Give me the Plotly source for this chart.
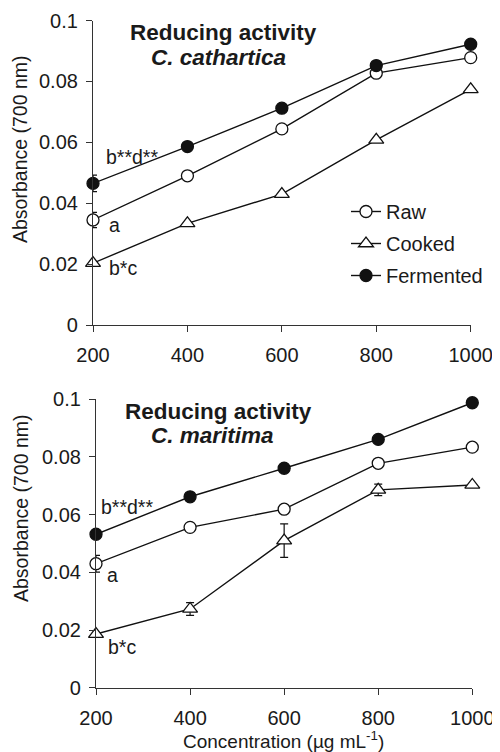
import plotly.graph_objects as go

conc = [200, 400, 600, 800, 1000]
x_ticks = [200, 400, 600, 800, 1000]
y_ticks = [0, 0.02, 0.04, 0.06, 0.08, 0.1]
y_tick_text = ["0", "0.02", "0.04", "0.06", "0.08", "0.1"]

# C. cathartica
cath_raw = [0.0345, 0.0490, 0.0644, 0.0827, 0.0878]
cath_cooked = [0.0203, 0.0334, 0.0430, 0.0608, 0.0774]
cath_ferm = [0.0465, 0.0586, 0.0712, 0.0852, 0.0922]
cath_raw_err = [0.0025, 0, 0, 0.001, 0]
cath_cooked_err = [0, 0, 0, 0, 0]
cath_ferm_err = [0.0027, 0, 0, 0, 0]

# C. maritima
mar_raw = [0.0430, 0.0556, 0.0619, 0.0778, 0.0834]
mar_cooked = [0.0186, 0.0273, 0.0510, 0.0686, 0.0703]
mar_ferm = [0.0532, 0.0662, 0.0761, 0.0861, 0.0988]
mar_raw_err = [0.0029, 0, 0, 0.001, 0]
mar_cooked_err = [0, 0.0022, 0.0058, 0.0020, 0]
mar_ferm_err = [0, 0, 0, 0, 0]

series_names = ["Raw", "Cooked", "Fermented"]

FONT = "Liberation Sans, Arial, Helvetica, sans-serif"
# page has an 8px body margin; size the figure so it fits the 500x752 window
OFF = 8
W, H = 500 - OFF, 752 - OFF

styles = {
    "Raw": dict(symbol="circle", size=12, color="white"),
    "Cooked": dict(symbol="triangle-up", size=13, color="white"),
    "Fermented": dict(symbol="circle", size=12, color="#111111"),
}

fig = go.Figure()

panels = [
    ("x", "y", [cath_raw, cath_cooked, cath_ferm], [cath_raw_err, cath_cooked_err, cath_ferm_err], True),
    ("x2", "y2", [mar_raw, mar_cooked, mar_ferm], [mar_raw_err, mar_cooked_err, mar_ferm_err], False),
]

for xa, ya, vals, errs, show in panels:
    for name, v, e in zip(series_names, vals, errs):
        st = styles[name]
        fig.add_trace(go.Scatter(
            x=conc, y=v, name=name, mode="lines+markers",
            xaxis=xa, yaxis=ya, cliponaxis=False,
            legendgroup=name, showlegend=show,
            line=dict(color="#111111", width=1.4),
            marker=dict(symbol=st["symbol"], size=st["size"], color=st["color"],
                        line=dict(color="#111111", width=1.3)),
            error_y=dict(type="data", array=e, visible=True, color="#111111",
                         thickness=1.2, width=4),
        ))

def px_x(p):
    return (p - OFF) / W

def px_y(p):
    return 1 - (p - OFF) / H

axis_common = dict(
    showline=True, linecolor="#333333", linewidth=1.2,
    ticks="outside", ticklen=6, tickcolor="#333333", tickwidth=1.2,
    showgrid=False, zeroline=False, automargin=False,
    tickfont=dict(family=FONT, size=20, color="#1a1a1a"),
)

fig.update_layout(
    width=W, height=H,
    margin=dict(l=0, r=0, t=0, b=0, autoexpand=False),
    paper_bgcolor="white", plot_bgcolor="white",
    font=dict(family=FONT, color="#1a1a1a"),
    xaxis=dict(domain=[px_x(93), px_x(470.7)], anchor="y", range=[200, 1000],
               tickvals=x_ticks, ticklabelstandoff=6, **axis_common),
    yaxis=dict(domain=[px_y(325), px_y(20.5)], anchor="x", range=[0, 0.1],
               tickvals=y_ticks, ticktext=y_tick_text, ticklabelstandoff=4, **axis_common),
    xaxis2=dict(domain=[px_x(96), px_x(472.3)], anchor="y2", range=[200, 1000],
                tickvals=x_ticks, ticklabelstandoff=6, **axis_common),
    yaxis2=dict(domain=[px_y(687.7), px_y(399.3)], anchor="x2", range=[0, 0.1],
                tickvals=y_ticks, ticktext=y_tick_text, ticklabelstandoff=4, **axis_common),
    legend=dict(x=px_x(346), y=px_y(192), xanchor="left", yanchor="top",
                bgcolor="rgba(0,0,0,0)", traceorder="grouped", tracegroupgap=3,
                font=dict(family=FONT, size=20, color="#1a1a1a")),
    showlegend=True,
)

annotations = []

def add_text(text, x, y, xref="paper", yref="paper", size=19, xanchor="center",
             yanchor="middle", angle=0):
    annotations.append(dict(text=text, x=x, y=y, xref=xref, yref=yref, showarrow=False,
                            xanchor=xanchor, yanchor=yanchor, textangle=angle,
                            font=dict(family=FONT, size=size, color="#1a1a1a")))

# Panel titles
add_text("<b>Reducing activity</b>", px_x(223), px_y(33), size=22.5)
add_text("<b><i>C. cathartica</i></b>", px_x(218), px_y(57), size=22.5)
add_text("<b>Reducing activity</b>", px_x(218), px_y(411), size=22.5)
add_text("<b><i>C. maritima</i></b>", px_x(212), px_y(435), size=22.5)

# Y axis titles
add_text("Absorbance (700 nm)", px_x(20), px_y(149), angle=-90, size=19.5)
add_text("Absorbance (700 nm)", px_x(21), px_y(508), angle=-90, size=19.5)

# X axis title
add_text("Concentration (µg mL<sup>-1</sup>)", px_x(283), px_y(740), size=19)

# Significance labels (data coordinates)
add_text("b**d**", 223, 0.0552, xref="x", yref="y", xanchor="left", size=19.5)
add_text("a", 229, 0.0328, xref="x", yref="y", xanchor="left", size=19.5)
add_text("b*c", 229, 0.0187, xref="x", yref="y", xanchor="left", size=19.5)
add_text("b**d**", 206, 0.0628, xref="x2", yref="y2", xanchor="left", size=19.5)
add_text("a", 219, 0.0391, xref="x2", yref="y2", xanchor="left", size=19.5)
add_text("b*c", 221, 0.0140, xref="x2", yref="y2", xanchor="left", size=19.5)

fig.update_layout(annotations=annotations)

fig.write_html("out.html")
